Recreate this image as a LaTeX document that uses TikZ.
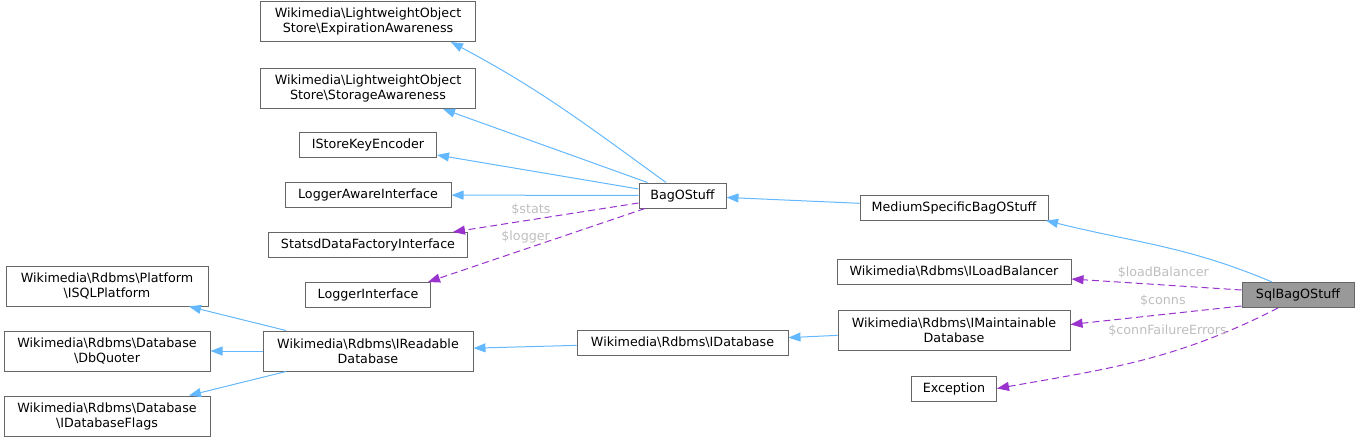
\documentclass[tikz,border=0pt]{standalone}
\usepackage{fontspec}
\setmainfont{DejaVu Sans}
\usepackage{xcolor}
\usepackage{tikz}
\usetikzlibrary{arrows.meta, positioning}
\definecolor{edgeBlue}{HTML}{63B8FF}
\definecolor{edgePurple}{HTML}{9A32CD}
\definecolor{boxBorder}{HTML}{666666}
\definecolor{focusGray}{HTML}{999999}
\definecolor{labelGray}{HTML}{BEBEBE}
\newcommand{\nsSep}{\textbackslash}

\begin{document}
\begin{tikzpicture}[
    x=1pt, y=1pt,
    node distance=24pt,
    box/.style={rectangle, draw=boxBorder, fill=white, line width=1pt, inner sep=0pt,
                minimum height=25pt, align=center, font=\fontsize{12.7}{15}\selectfont},
    twoline/.style={minimum height=40pt},
    inherit/.style={-{Triangle[length=12pt,width=9pt]}, line width=1pt, color=edgeBlue},
    uses/.style={-{Triangle[length=12pt,width=9pt]}, line width=1pt, color=edgePurple,
                 dash pattern=on 7pt off 4pt},
    varlabel/.style={text=labelGray, inner sep=0pt, font=\fontsize{12.7}{15}\selectfont},
]
\useasboundingbox (0,0) rectangle (1360,-441);

% Parents of BagOStuff
\node[box, minimum width=166pt] (lai) at (368,-195) {LoggerAwareInterface};
\node[box, minimum width=137pt, above=24pt of lai] (iskey) {IStoreKeyEncoder};
\node[box, twoline, minimum width=215pt, above=23pt of iskey] (storaw) {Wikimedia\nsSep LightweightObject\\Store\nsSep StorageAwareness};
\node[box, twoline, minimum width=215pt, above=26pt of storaw] (expaw) {Wikimedia\nsSep LightweightObject\\Store\nsSep ExpirationAwareness};
\node[box, minimum width=199pt, below=24pt of lai] (sdfi) {StatsdDataFactoryInterface};
\node[box, minimum width=125pt, below=24pt of sdfi] (logif) {LoggerInterface};

% BagOStuff chain
\node[box, minimum width=87pt] (bag) at (682.5,-195.5) {BagOStuff};
\node[box, minimum width=188pt] (msbag) at (954,-207.5) {MediumSpecificBagOStuff};
\node[box, minimum width=112pt, fill=focusGray] (sql) at (1298,-295) {SqlBagOStuff};

% Members of SqlBagOStuff
\node[box, minimum width=234pt, below=38pt of msbag] (ilb) {Wikimedia\nsSep Rdbms\nsSep ILoadBalancer};
\node[box, twoline, minimum width=232pt, below=25pt of ilb] (imd) {Wikimedia\nsSep Rdbms\nsSep IMaintainable\\Database};
\node[box, minimum width=85pt, below=25pt of imd] (exc) {Exception};

% Database interfaces
\node[box, minimum width=211pt] (idb) at (682.5,-342.5) {Wikimedia\nsSep Rdbms\nsSep IDatabase};
\node[box, twoline, minimum width=210pt] (ird) at (368,-351) {Wikimedia\nsSep Rdbms\nsSep IReadable\\Database};
\node[box, twoline, minimum width=206pt, left=52pt of ird] (dbq) {Wikimedia\nsSep Rdbms\nsSep Database\\\nsSep DbQuoter};
\node[box, twoline, minimum width=202pt, above=24pt of dbq] (isql) {Wikimedia\nsSep Rdbms\nsSep Platform\\\nsSep ISQLPlatform};
\node[box, twoline, minimum width=206pt, below=24pt of dbq] (idbf) {Wikimedia\nsSep Rdbms\nsSep Database\\\nsSep IDatabaseFlags};

% Inheritance
\draw[inherit] ([xshift=-16.5pt]bag.north) to[out=144, in=-28] ([xshift=83pt]expaw.south);
\draw[inherit] ([xshift=-35pt]bag.north) -- ([xshift=75pt]storaw.south);
\draw[inherit] ([yshift=6.5pt]bag.west) -- ([yshift=-10pt]iskey.east);
\draw[inherit] (bag) -- (lai);
\draw[inherit] (msbag) -- (bag);
\draw[inherit] ([xshift=-26pt]sql.north) to[out=157, in=-14] ([xshift=92pt]msbag.south);
\draw[inherit] (imd) -- (idb);
\draw[inherit] (idb) -- (ird);
\draw[inherit] ([xshift=-82pt]ird.north) -- ([xshift=82pt]isql.south);
\draw[inherit] (ird) -- (dbq);
\draw[inherit] ([xshift=-82pt]ird.south) -- ([xshift=82pt]idbf.north);

% Member variables
\draw[uses] ([yshift=-7.5pt]bag.west) -- node[varlabel, pos=0.58, above=3.5pt] {\$stats} ([xshift=-15pt]sdfi.north east);
\draw[uses] ([xshift=-37.5pt]bag.south) -- node[varlabel, pos=0.55, above=5pt] {\$logger} ([xshift=-3pt]logif.north east);
\draw[uses] ([yshift=5pt]sql.west) -- node[varlabel, pos=0.46, above=5.7pt] {\$loadBalancer} ([yshift=-7.5pt]ilb.east);
\draw[uses] ([yshift=-11pt]sql.west) -- node[varlabel, pos=0.46, above=7.4pt] {\$conns} ([yshift=5.5pt]imd.east);
\draw[uses] ([xshift=-20pt]sql.south) to[out=207, in=10] node[varlabel, pos=0.4, above=16pt] {\$connFailureErrors} (exc.east);

\end{tikzpicture}
\end{document}
